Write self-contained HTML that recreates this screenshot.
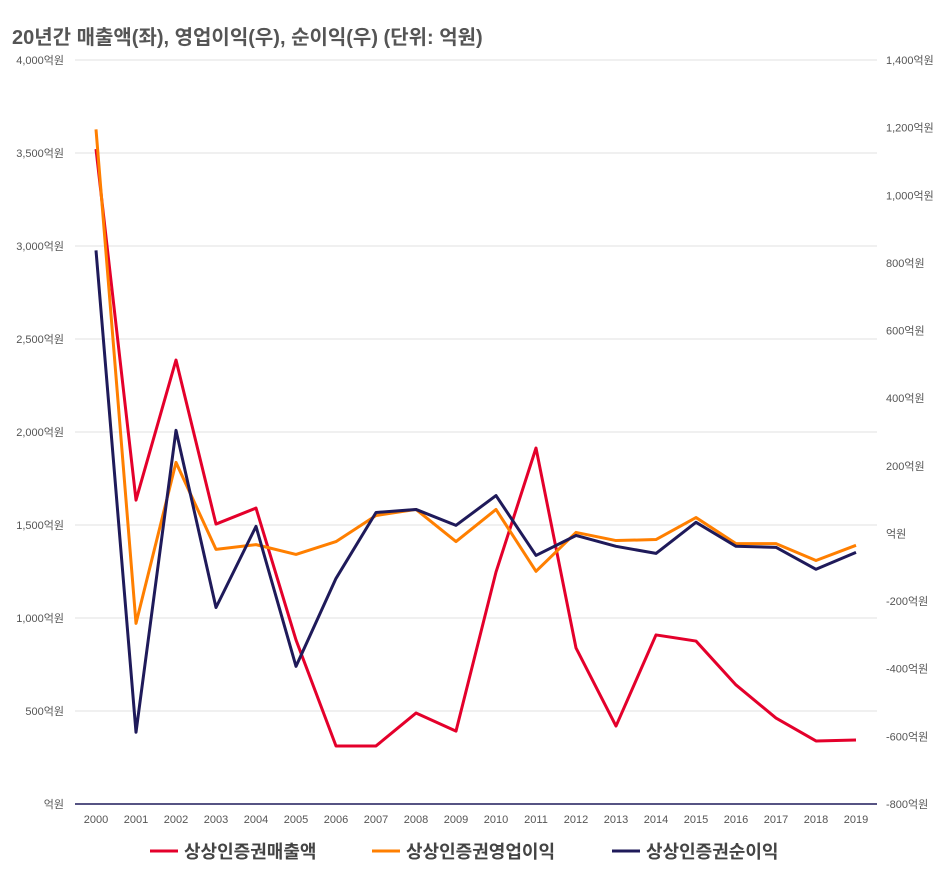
<!DOCTYPE html>
<html><head><meta charset="utf-8"><style>
body{margin:0;background:#fff;width:951px;height:876px;overflow:hidden;font-family:"Liberation Sans","Noto Sans CJK KR",sans-serif}
</style></head><body>
<svg id="c" width="951" height="876" style="position:absolute;left:0;top:0">
<text x="12" y="44" font-size="20" font-weight="bold" fill="#555" font-family="Liberation Sans,Noto Sans CJK KR,sans-serif">20년간 매출액(좌), 영업이익(우), 순이익(우) (단위: 억원)</text>
</svg>
<script>
const years=[2000,2001,2002,2003,2004,2005,2006,2007,2008,2009,2010,2011,2012,2013,2014,2015,2016,2017,2018,2019];
const sales=[3521,1634,2387,1505,1591,882,312,312,489,392,1247,1914,839,419,909,876,640,462,339,344];
const opProfit=[1195,-266,210,-47,-33,-62,-24,53,71,-24,71,-112,3,-21,-18,47,-30,-30,-80,-35];
const netProfit=[837,-588,305,-219,21,-393,-133,62,71,24,112,-65,-6,-38,-59,33,-38,-41,-106,-56];
const leftTicks=[0,500,1000,1500,2000,2500,3000,3500,4000];
const rightTicks=[-800,-600,-400,-200,0,200,400,600,800,1000,1200,1400];
const seriesNames=["상상인증권매출액","상상인증권영업이익","상상인증권순이익"];
const svg=document.getElementById('c');const NS='http://www.w3.org/2000/svg';
const plotTop=60,plotBot=804,x0=96,dx=40;
const yL=v=>plotBot-(v/4000)*(plotBot-plotTop);
const yR=v=>plotBot-((v+800)/2200)*(plotBot-plotTop);
const xS=i=>x0+i*dx;
function mk(t,a){const e=document.createElementNS(NS,t);for(const k in a)e.setAttribute(k,a[k]);svg.appendChild(e);return e;}
const F='Liberation Sans,Noto Sans CJK KR,sans-serif';
leftTicks.forEach(v=>{
 if(v>0){const g=mk('line',{x1:75,x2:877,y1:yL(v),y2:yL(v),stroke:'#e0e0e0','stroke-width':1});
 
 }
 const t=mk('text',{x:64,y:yL(v)+4,'text-anchor':'end','font-size':11,fill:'#555','font-family':F});
 t.textContent=(v===0?'':v.toLocaleString('en-US'))+'억원';
 
 
});
rightTicks.forEach(v=>{
 const t=mk('text',{x:886,y:yR(v)+4,'font-size':11,fill:'#555','font-family':F});
 t.textContent=(v===0?'':v.toLocaleString('en-US'))+'억원';
 
 
});
const ax=mk('line',{x1:75,x2:877,y1:plotBot,y2:plotBot,stroke:'#1f1a5a','stroke-width':1.5});


years.forEach((y,i)=>{const t=mk('text',{x:xS(i),y:823,'text-anchor':'middle','font-size':11,fill:'#555','font-family':F});t.textContent=y;
 
 });
function line(data,f,col,name){const p=mk('polyline',{points:data.map((v,i)=>xS(i)+','+f(v)).join(' '),fill:'none',stroke:col,'stroke-width':3,'stroke-linejoin':'round'});
 
 }
line(sales,yL,'#e4002b','sales-line');
line(opProfit,yR,'#ff7f00','operating-profit-line');
line(netProfit,yR,'#1f1a5a','net-profit-line');
const cols=['#e4002b','#ff7f00','#1f1a5a'];const lx=[150,372,612];
seriesNames.forEach((n,i)=>{
 const l=mk('line',{x1:lx[i],x2:lx[i]+28,y1:851,y2:851,stroke:cols[i],'stroke-width':3});
 
 
 const t=mk('text',{x:lx[i]+34,y:858,'font-size':18,fill:'#444','font-weight':'bold','font-family':F});t.textContent=n;
 
 
});
</script>
</body></html>
